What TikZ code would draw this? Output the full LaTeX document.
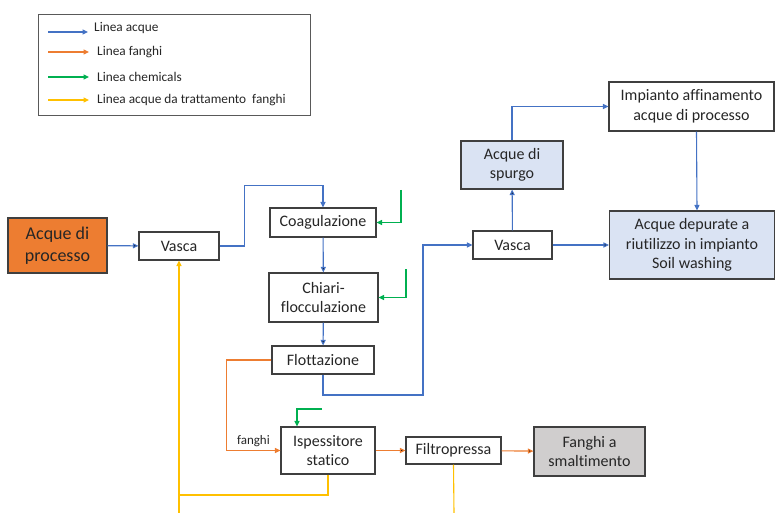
\documentclass[tikz,border=0pt]{standalone}
\usepackage{fontspec}
\setmainfont{Carlito}[Ligatures=NoCommon]
\usetikzlibrary{arrows.meta}
\definecolor{acqua}{HTML}{4472C4}
\definecolor{fango}{HTML}{ED7D31}
\definecolor{chem}{HTML}{00B050}
\definecolor{giallo}{HTML}{FFC000}
\definecolor{celeste}{HTML}{DAE3F3}
\definecolor{grigio}{HTML}{D0CECE}
\definecolor{bordo}{HTML}{3F3F3F}
\tikzset{
	blocco/.style={draw=bordo, line width=1.1pt, align=center, inner sep=0pt, text=black!85, font=\fontsize{16}{19.5}\selectfont},
	freccia/.style={line width=1.1pt, -{Triangle[length=5.5pt,width=5pt]}},
	la/.style={freccia, draw=acqua},
	lf/.style={freccia, draw=fango},
	lc/.style={freccia, draw=chem},
	ly/.style={freccia, draw=giallo},
	lyp/.style={draw=giallo, line width=1.1pt},
	voce/.style={anchor=west, inner sep=0pt, text=black!85, font=\fontsize{13.3}{15}\selectfont}
}
\begin{document}
\begin{tikzpicture}[x=1pt, y=-1pt]
	\useasboundingbox (0,0) rectangle (776,513);

	\node[draw=black!65, line width=1pt, minimum width=272pt, minimum height=101pt] (legenda) at (174,65.5) {};
	\node[voce] (v1) at (94,28) {Linea acque};
	\node[voce] (v2) at (97,52) {Linea fanghi};
	\node[voce] (v3) at (97,77) {Linea chemicals};
	\node[voce] (v4) at (97,100) {Linea acque da trattamento\ \ fanghi};
	\draw[la] (48,32) -- (88,32);
	\draw[lf] (48,52) -- ([xshift=-8pt]v2.west);
	\draw[lc] (48,77) -- ([xshift=-8pt]v3.west);
	\draw[ly] (48,100) -- ([xshift=-8pt]v4.west);

	\node[blocco, fill=fango, minimum width=99pt, minimum height=55pt, font=\fontsize{18}{22}\selectfont] (processo) at (57.5,245.5) {Acque di\\processo};
	\node[blocco, minimum width=80pt, minimum height=28pt] (vasca1) at (179,246) {Vasca};
	\node[blocco, minimum width=106pt, minimum height=29pt] (coag) at (323,222.5) {Coagulazione};
	\node[blocco, minimum width=109pt, minimum height=49pt] (chiari) at (323.5,297.5) {Chiari-\\flocculazione};
	\node[blocco, minimum width=102pt, minimum height=28pt] (flott) at (323,360) {Flottazione};
	\node[blocco, minimum width=94pt, minimum height=47pt] (ispess) at (328,450.5) {Ispessitore\\statico};
	\node[blocco, minimum width=95pt, minimum height=27pt] (filtro) at (453.5,450.5) {Filtropressa};
	\node[blocco, fill=grigio, minimum width=111pt, minimum height=49pt] (smalt) at (589.5,451.5) {Fanghi a\\smaltimento};
	\node[blocco, minimum width=79pt, minimum height=28pt] (vasca2) at (512.5,245) {Vasca};
	\node[blocco, fill=celeste, minimum width=102pt, minimum height=48pt] (spurgo) at (512,165) {Acque di\\spurgo};
	\node[blocco, minimum width=165pt, minimum height=49pt] (impianto) at (691.5,106.5) {Impianto affinamento\\acque di processo};
	\node[blocco, fill=celeste, minimum width=165pt, minimum height=68pt] (depurate) at (692,245) {Acque depurate a\\riutilizzo in impianto\\Soil washing};

	\coordinate (c1) at (401,190);
	\coordinate (c2) at (406,269);
	\coordinate (c3) at (322,409);
	\coordinate (giunto) at (179,495);
	\coordinate (fondo1) at (179,513);
	\coordinate (fondo2) at (454,513);

	\path [la] (processo) edge (vasca1);
	\draw [la] (vasca1.east) -- ++(25,0) |- ([yshift=22pt]coag.north) -- (coag.north);
	\path [la] (coag) edge (chiari);
	\path [la] (chiari) edge (flott);
	\draw [la] (flott.south) |- (423,395) |- (vasca2.west);
	\path [la] (vasca2) edge (spurgo);
	\path [la] (vasca2) edge (depurate);
	\draw [la] (spurgo.north) |- (impianto.west);
	\draw [la] ([xshift=5pt]impianto.south) -- ([xshift=5pt]depurate.north);

	\draw [lc] (c1) |- (coag.east);
	\draw [lc] (c2) |- (chiari.east);
	\draw [lc] (c3) -| ([xshift=-31pt]ispess.north);

	\draw [lf] (flott.west) -- ++(-45,0) |- node[pos=0.75, above, font=\fontsize{13}{15}\selectfont, text=black!85] {fanghi} (ispess.west);
	\path [lf] (ispess) edge (filtro);
	\path [lf] (filtro) edge (smalt);

	\draw [lyp] (ispess.south) |- (giunto);
	\draw [ly] (fondo1) -- (vasca1.south);
	\draw [lyp] (filtro.south) -- (fondo2);
\end{tikzpicture}
\end{document}
